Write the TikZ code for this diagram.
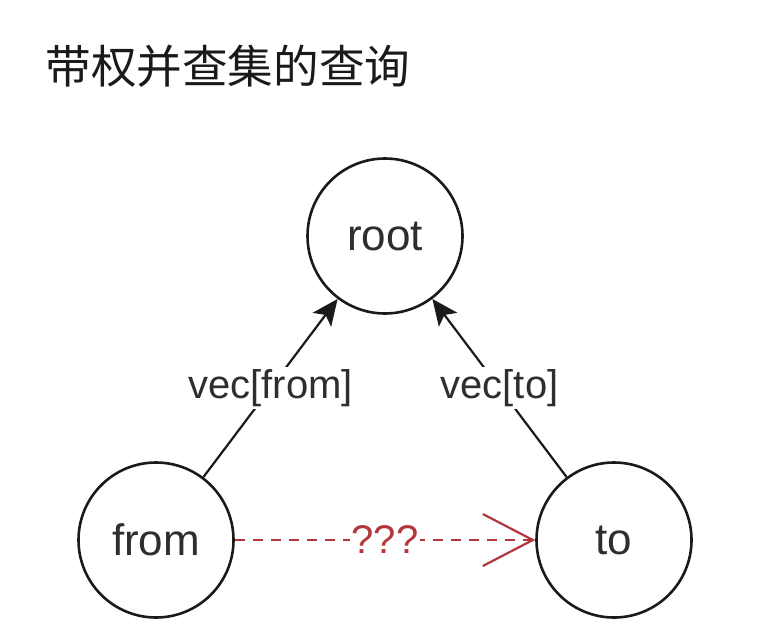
\documentclass[tikz,border=0pt]{standalone}
\usepackage{fontspec}
\setmainfont{Liberation Sans}
\newfontfamily\cjkfont{Noto Sans CJK SC}
\usetikzlibrary{positioning, arrows.meta}
\definecolor{ink}{HTML}{1A1A1A}
\definecolor{textmain}{HTML}{2E2E2E}
\definecolor{queryred}{HTML}{B3363A}

\begin{document}
\begin{tikzpicture}[
    x=0.5pt, y=-0.5pt,
    node distance=1cm,
    vertex/.style={circle, draw=ink, line width=1.3pt, fill=white, text=textmain,
                   minimum size=77.5pt, inner sep=0pt, font=\fontsize{22}{26}\selectfont},
    arrow/.style={-{Stealth[length=13pt, width=11.5pt, inset=3pt]}, line width=1.1pt, ink},
    unknown/.style={-{Straight Barb[length=25pt, width=26pt, line width=1.1pt]},
                    line width=1.1pt, queryred, dash pattern=on 5pt off 4pt},
    edgetext/.style={fill=white, text=textmain, inner sep=1pt, font=\fontsize{20}{24}\selectfont},
    title/.style={inner sep=0pt, text=ink, font=\fontsize{22.8}{27}\selectfont\cjkfont}
  ]
    \useasboundingbox (0,0) rectangle (758,642);

    \node[title, anchor=west] (heading) at (45,66) {带权并查集的查询};

    \node[vertex] (root) at (385,236) {root};
    \node[vertex] (from) at (156,540) {from};
    \node[vertex] (to) at (614,540) {to};

    \draw[arrow] (from) -- node[edgetext]{vec[from]} (root);
    \draw[arrow] (to) -- node[edgetext]{vec[to]} (root);
    \draw[unknown] (from) -- node[edgetext, text=queryred]{???} (to);
  \end{tikzpicture}
\end{document}
